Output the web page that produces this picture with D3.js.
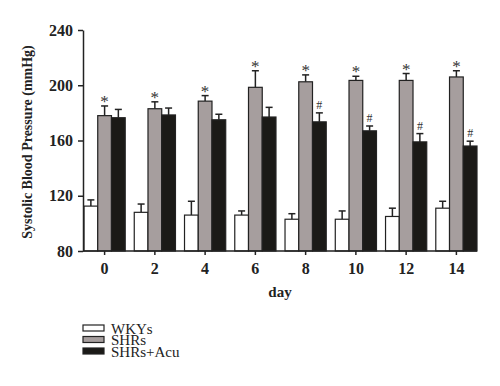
<!DOCTYPE html>
<html>
<head>
<meta charset="utf-8">
<script src="https://cdn.jsdelivr.net/npm/d3@7"></script>
<style>
  body { margin: 0; background: #fff; }
  svg { display: block; }
</style>
</head>
<body>
<script>
let days = ["0", "2", "4", "6", "8", "10", "12", "14"];
let groups = ["WKYs", "SHRs", "SHRs+Acu"];
let wkyMean = [112.5, 108, 106, 106, 103, 103, 105, 111];
let wkyErr = [4.5, 6, 10, 3, 4, 6, 6, 5];
let shrMean = [178, 183, 188.5, 198.5, 202.5, 203.5, 203.5, 206];
let shrErr = [7, 5, 4, 12, 5, 3, 5, 4.5];
let acuMean = [176.5, 178.5, 175, 177, 173.5, 167, 159, 156];
let acuErr = [6, 5, 4, 7, 6.5, 3.5, 6, 3.5];
let starMarks = [true, true, true, true, true, true, true, true];
let hashMarks = [false, false, false, false, true, true, true, true];
let yTicks = [80, 120, 160, 200, 240];

let colors = ["#ffffff", "#a69e9e", "#1b1a17"];
let serif = "'Liberation Serif', 'DejaVu Serif', serif";

let series = [
    {name: groups[0], mean: wkyMean, err: wkyErr},
    {name: groups[1], mean: shrMean, err: shrErr},
    {name: groups[2], mean: acuMean, err: acuErr}
];

let svg = d3.select('body').append('svg')
    .attr('width', 500)
    .attr('height', 386);

let x = d3.scaleBand().domain(days).range([84, 477]).paddingInner(0.18).paddingOuter(0);
let xs = d3.scaleBand().domain(groups).range([0, x.bandwidth()]);
let y = d3.scaleLinear().domain([80, 240]).range([251, 30]);

// bars
let g = svg.append('g');
series.forEach((s, si) => {
    let rows = days.map((d, i) => ({day: d, v: s.mean[i], e: s.err[i]}));
    let sg = g.append('g');
    // error bars (upper only)
    sg.selectAll('line.eb').data(rows).enter().append('line')
        .attr('x1', d => x(d.day) + xs(s.name) + xs.bandwidth() / 2)
        .attr('x2', d => x(d.day) + xs(s.name) + xs.bandwidth() / 2)
        .attr('y1', d => y(d.v))
        .attr('y2', d => y(d.v + d.e))
        .attr('stroke', '#222').attr('stroke-width', 1.5);
    sg.selectAll('line.cap').data(rows).enter().append('line')
        .attr('x1', d => x(d.day) + xs(s.name) + xs.bandwidth() / 2 - 3.5)
        .attr('x2', d => x(d.day) + xs(s.name) + xs.bandwidth() / 2 + 3.5)
        .attr('y1', d => y(d.v + d.e))
        .attr('y2', d => y(d.v + d.e))
        .attr('stroke', '#222').attr('stroke-width', 1.5);
    sg.selectAll('rect').data(rows).enter().append('rect')
        .attr('x', d => x(d.day) + xs(s.name))
        .attr('y', d => y(d.v))
        .attr('width', xs.bandwidth())
        .attr('height', d => y(80) - y(d.v))
        .attr('fill', colors[si])
        .attr('stroke', '#222')
        .attr('stroke-width', 1.2);
});

// significance marks
svg.append('g').selectAll('text').data(days.filter((d, i) => starMarks[i])).enter().append('text')
    .attr('x', d => x(d) + xs("SHRs") + xs.bandwidth() / 2)
    .attr('y', d => y(shrMean[days.indexOf(d)] + shrErr[days.indexOf(d)]) + 1)
    .attr('text-anchor', 'middle')
    .attr('font-family', serif).attr('font-size', 17).attr('fill', '#333')
    .text('*');
svg.append('g').selectAll('text').data(days.filter((d, i) => hashMarks[i])).enter().append('text')
    .attr('x', d => x(d) + xs("SHRs+Acu") + xs.bandwidth() / 2)
    .attr('y', d => y(acuMean[days.indexOf(d)] + acuErr[days.indexOf(d)]) - 4)
    .attr('text-anchor', 'middle')
    .attr('font-family', serif).attr('font-size', 12).attr('fill', '#333')
    .text('#');

// axes
let yAxis = svg.append('g').attr('transform', 'translate(83,0)')
    .call(d3.axisLeft(y).tickValues(yTicks).tickSize(5).tickPadding(5).tickSizeOuter(0));
let xAxis = svg.append('g').attr('transform', 'translate(0,251)')
    .call(d3.axisBottom(x).tickSize(4).tickPadding(8).tickSizeOuter(0));
xAxis.select('.domain').attr('d', 'M83,0H477');

[xAxis, yAxis].forEach(a => {
    a.select('.domain').attr('stroke', '#222').attr('stroke-width', 1.5);
    a.selectAll('.tick line').attr('stroke', '#222').attr('stroke-width', 1.5);
    a.selectAll('.tick text')
        .attr('font-family', serif).attr('font-size', 16).attr('font-weight', 'bold').attr('fill', '#222');
});

// axis titles
svg.append('text')
    .attr('transform', 'translate(32,142) rotate(-90)')
    .attr('text-anchor', 'middle')
    .attr('font-family', serif).attr('font-size', 14).attr('font-weight', 'bold').attr('fill', '#222')
    .text('Systolic Blood Pressure (mmHg)');
svg.append('text')
    .attr('x', 280).attr('y', 297)
    .attr('text-anchor', 'middle')
    .attr('font-family', serif).attr('font-size', 15).attr('font-weight', 'bold').attr('fill', '#222')
    .text('day');

// legend
let legend = svg.append('g').attr('transform', 'translate(83,325)');
let lg = legend.selectAll('g').data(groups).enter().append('g')
    .attr('transform', (d, i) => `translate(0,${i * 11.5})`);
lg.append('rect')
    .attr('width', 21).attr('height', 6)
    .attr('fill', (d, i) => colors[i])
    .attr('stroke', '#222').attr('stroke-width', 1.2);
lg.append('text')
    .attr('x', 28).attr('y', 8.5)
    .attr('font-family', serif).attr('font-size', 15).attr('fill', '#222')
    .text(d => d);
</script>
</body>
</html>
